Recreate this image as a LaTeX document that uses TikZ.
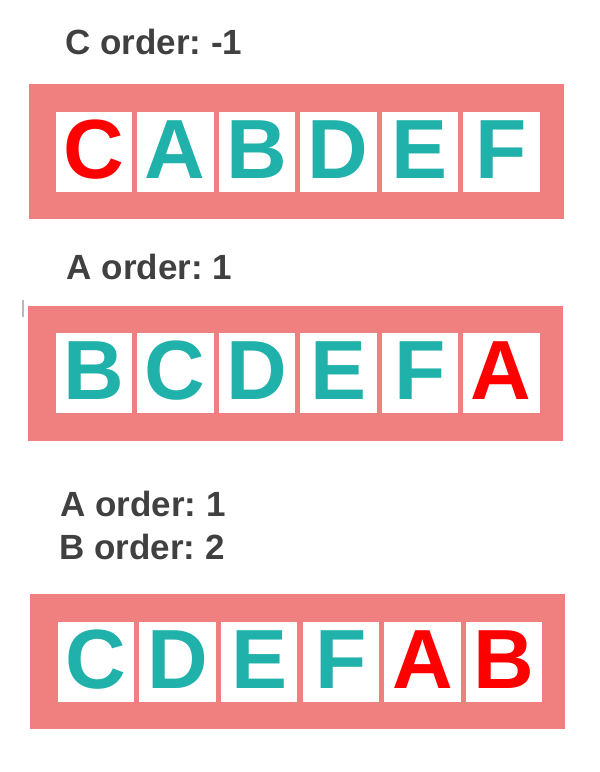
\documentclass[tikz,border=0pt]{standalone}
\usepackage{fontspec}
\setmainfont{Liberation Sans}
\usetikzlibrary{calc}
\frenchspacing

\begin{document}
\begin{tikzpicture}[x=1pt,y=-1pt]
  \definecolor{framefill}{HTML}{F08080}
  \definecolor{moved}{HTML}{FF0000}
  \definecolor{kept}{HTML}{20B2AA}
  \definecolor{labelgray}{HTML}{404040}
  \tikzset{
    cell/.style={fill=white, inner sep=0pt, minimum width=76.5pt, minimum height=80pt,
      text height=66pt, text depth=14pt, font=\fontsize{84}{84}\selectfont\bfseries},
    orderlabel/.style={text=labelgray, inner sep=0pt, anchor=base west,
      font=\fontsize{35}{35}\selectfont\bfseries}
  }
  \def\pitch{81.5}
  \useasboundingbox (0,0) rectangle (600,772);
  % first row
  \node[orderlabel] (ordtop) at (65,54.3) {C order: -1};
  \fill[framefill] (28.5,84) rectangle (563.5,219);
  \foreach \ch/\col [count=\i] in {C/moved,A/kept,B/kept,D/kept,E/kept,F/kept}
    \node[cell, text=\col] (top\i) at ({93.75+\pitch*(\i-1)},152) {\ch};
  % second row
  \node[orderlabel] (ordmid) at (66.5,279.3) {A order: 1};
  \draw[gray!55, line width=1.2pt] (23,300) -- (23,317);
  \fill[framefill] (28.3,305.7) rectangle (563.3,440.7);
  \foreach \ch/\col [count=\i] in {B/kept,C/kept,D/kept,E/kept,F/kept,A/moved}
    \node[cell, text=\col] (mid\i) at ({93.75+\pitch*(\i-1)},373) {\ch};
  % third row
  \node[orderlabel] (ordbotA) at (60,516.7) {A order: 1};
  \node[orderlabel] (ordbotB) at (59,559) {B order: 2};
  \fill[framefill] (30.3,594.3) rectangle (565.3,729.3);
  \foreach \ch/\col [count=\i] in {C/kept,D/kept,E/kept,F/kept,A/moved,B/moved}
    \node[cell, text=\col] (bot\i) at ({96+81.6*(\i-1)},662) {\ch};
\end{tikzpicture}
\end{document}
